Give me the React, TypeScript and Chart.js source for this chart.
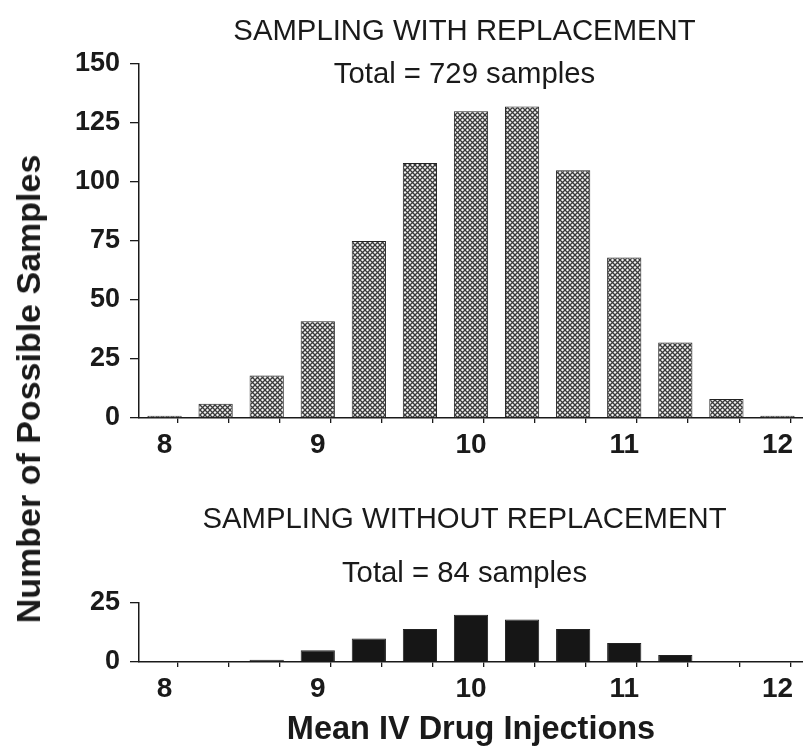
import React, { useEffect, useRef } from 'react';
import { Chart, registerables } from 'chart.js';

Chart.register(...registerables);

// ---- data ----
const binMeans = [8, 25 / 3, 26 / 3, 9, 28 / 3, 29 / 3, 10, 31 / 3, 32 / 3, 11, 34 / 3, 35 / 3, 12];
const withReplacement = [1, 6, 18, 41, 75, 108, 130, 132, 105, 68, 32, 8, 1];
const withoutReplacement = [0, 0, 1, 5, 10, 14, 20, 18, 14, 8, 3, 0, 0];
const xTickLabels = [8, 9, 10, 11, 12];
const yTicksTop = [0, 25, 50, 75, 100, 125, 150];
const yTicksBottom = [0, 25];
const topTitle = 'SAMPLING WITH REPLACEMENT';
const topSubtitle = 'Total = 729 samples';
const bottomTitle = 'SAMPLING WITHOUT REPLACEMENT';
const bottomSubtitle = 'Total = 84 samples';
const xAxisTitle = 'Mean IV Drug Injections';
const yAxisTitle = 'Number of Possible Samples';

const FONT = '"Liberation Sans", Arial, Helvetica, sans-serif';
const INK = '#1a1a1a';
const HALF_BIN = 1 / 6;

function makePattern(): CanvasPattern | string {
  const c = document.createElement('canvas');
  c.width = 5;
  c.height = 5;
  const g = c.getContext('2d');
  if (!g) return '#999';
  g.fillStyle = '#f2f2f2';
  g.fillRect(0, 0, 5, 5);
  g.strokeStyle = '#3a3a3a';
  g.lineWidth = 1.3;
  g.beginPath();
  g.moveTo(-1, -1);
  g.lineTo(6, 6);
  g.moveTo(6, -1);
  g.lineTo(-1, 6);
  g.stroke();
  const p = g.createPattern(c, 'repeat');
  return p || '#999';
}

function panelText(lines: { text: string; dy: number }[]) {
  return {
    id: 'panelText',
    afterDraw(chart: any) {
      const { ctx, chartArea } = chart;
      ctx.save();
      ctx.fillStyle = INK;
      ctx.textAlign = 'center';
      ctx.textBaseline = 'alphabetic';
      ctx.font = `29.3px ${FONT}`;
      const cx = (chartArea.left + chartArea.right) / 2 - 6.5;
      lines.forEach((l) => ctx.fillText(l.text, cx, chartArea.top + l.dy));
      ctx.restore();
    },
  };
}

function buildConfig(
  values: number[],
  yTicks: number[],
  fill: any,
  canvasHeight: number,
  plotTop: number,
  plotBottom: number,
  texts: { text: string; dy: number }[],
  withXTitle: boolean
): any {
  const xMin = binMeans[0] - HALF_BIN;
  const xMax = binMeans[binMeans.length - 1] + HALF_BIN;
  return {
    type: 'bar',
    data: {
      datasets: [
        {
          data: binMeans.map((x, i) => ({ x, y: values[i] })),
          backgroundColor: fill,
          borderColor: '#222',
          borderWidth: 1,
          // ruler spacing is the half-bin tick spacing, so the bar spans ~1.33 of it
          barPercentage: 1.34,
          categoryPercentage: 1,
        },
      ],
    },
    options: {
      animation: false,
      responsive: false,
      maintainAspectRatio: false,
      events: [],
      layout: { padding: { top: plotTop, left: 0, right: 0, bottom: 0 } },
      plugins: { legend: { display: false }, tooltip: { enabled: false }, title: { display: false } },
      scales: {
        x: {
          type: 'linear',
          min: xMin,
          max: xMax,
          offset: false,
          afterBuildTicks: (scale: any) => {
            const t: { value: number }[] = [];
            binMeans.forEach((m) => {
              t.push({ value: m - HALF_BIN });
              t.push({ value: m });
            });
            t.push({ value: xMax });
            scale.ticks = t;
          },
          afterFit: (scale: any) => {
            scale.height = canvasHeight - plotBottom;
          },
          ticks: {
            autoSkip: false,
            maxRotation: 0,
            minRotation: 0,
            padding: 5,
            color: INK,
            font: { family: FONT, size: 28, weight: 'bold', lineHeight: 1.2 },
            callback: (value: number) => {
              const r = Math.round(value);
              return Math.abs(value - r) < 1e-6 && xTickLabels.includes(r) ? String(r) : '';
            },
          },
          grid: {
            display: true,
            drawOnChartArea: false,
            drawTicks: true,
            tickLength: 5,
            lineWidth: 1.3,
            color: (ctx: any) => (ctx.index % 2 === 0 ? INK : 'rgba(0,0,0,0)'),
          },
          border: { display: true, color: INK, width: 1.5 },
          title: withXTitle
            ? {
                display: true,
                text: xAxisTitle,
                color: INK,
                font: { family: FONT, size: 32.5, weight: 'bold', lineHeight: 1 },
                padding: { top: 0, bottom: 1 },
              }
            : { display: false },
        },
        y: {
          type: 'linear',
          min: yTicks[0],
          max: yTicks[yTicks.length - 1],
          afterBuildTicks: (scale: any) => {
            scale.ticks = yTicks.map((v) => ({ value: v }));
          },
          afterFit: (scale: any) => {
            scale.width = 139;
          },
          ticks: {
            padding: 10,
            color: INK,
            font: { family: FONT, size: 27, weight: 'bold', lineHeight: 1.2 },
          },
          grid: {
            display: true,
            drawOnChartArea: false,
            drawTicks: true,
            tickLength: 9,
            lineWidth: 1.3,
            color: INK,
          },
          border: { display: true, color: INK, width: 1.5 },
        },
      },
    },
    plugins: [panelText(texts)],
  };
}

export default function App() {
  const topRef = useRef<HTMLCanvasElement>(null);
  const bottomRef = useRef<HTMLCanvasElement>(null);

  useEffect(() => {
    document.body.style.margin = '0';
    const pattern = makePattern();
    const topChart = new Chart(
      topRef.current as HTMLCanvasElement,
      buildConfig(
        withReplacement,
        yTicksTop,
        pattern,
        475,
        64,
        418,
        [
          { text: topTitle, dy: -24.5 },
          { text: topSubtitle, dy: 18.7 },
        ],
        false
      )
    );
    const bottomChart = new Chart(
      bottomRef.current as HTMLCanvasElement,
      buildConfig(
        withoutReplacement,
        yTicksBottom,
        '#161616',
        272,
        128,
        187,
        [
          { text: bottomTitle, dy: -74.6 },
          { text: bottomSubtitle, dy: -21 },
        ],
        true
      )
    );
    return () => {
      topChart.destroy();
      bottomChart.destroy();
    };
  }, []);

  return (
    <div
      style={{
        position: 'absolute',
        left: 0,
        top: 0,
        width: 803,
        height: 747,
        overflow: 'hidden',
        background: '#fff',
      }}
    >
      <canvas
        ref={topRef}
        width={808}
        height={475}
        style={{ position: 'absolute', left: 0, top: 0, width: 808, height: 475 }}
      />
      <canvas
        ref={bottomRef}
        width={808}
        height={272}
        style={{ position: 'absolute', left: 0, top: 475, width: 808, height: 272 }}
      />
      <div
        style={{
          position: 'absolute',
          left: 28.2,
          top: 388.5,
          transform: 'translate(-50%, -50%) rotate(-90deg)',
          whiteSpace: 'nowrap',
          fontFamily: FONT,
          fontWeight: 'bold',
          fontSize: 34,
          lineHeight: 1,
          color: INK,
        }}
      >
        {yAxisTitle}
      </div>
    </div>
  );
}
